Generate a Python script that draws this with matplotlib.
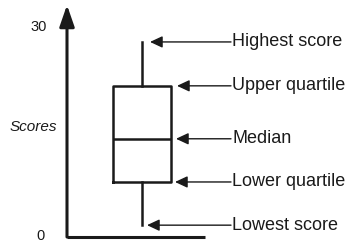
import matplotlib
matplotlib.use("Agg")
import matplotlib.pyplot as plt

plt.rcParams['font.family'] = ['Liberation Sans', 'DejaVu Sans']

# Five-number summary (scores)
lowest = 1.7
lower_q = 7.9
median = 14.1
upper_q = 21.7
highest = 28.0
labels = ["Highest score", "Upper quartile", "Median", "Lower quartile", "Lowest score"]
values = [highest, upper_q, median, lower_q, lowest]
yticks = [0, 30]

fig = plt.figure(figsize=(3.46, 2.43), dpi=100)
ax = fig.add_axes([0, 0, 1, 1])
ax.set_xlim(0, 346)
ax.set_ylim(-0.86, 34.02)
ax.axis('off')

box_x = 142
box_w = 58
stats = [dict(med=median, q1=lower_q, q3=upper_q, whislo=lowest, whishi=highest, fliers=[])]
ax.bxp(stats, positions=[box_x], widths=box_w, showcaps=False, showfliers=False,
       boxprops=dict(color='#1a1a1a', linewidth=1.8),
       medianprops=dict(color='#1a1a1a', linewidth=1.8),
       whiskerprops=dict(color='#1a1a1a', linewidth=1.8),
       manage_ticks=False)

# axes
ax.plot([67, 205], [0, 0], color='#1a1a1a', linewidth=2.2, solid_capstyle='butt')
ax.annotate('', xy=(67, 33.3), xytext=(67, 0),
            arrowprops=dict(arrowstyle='-|>,head_length=1.3,head_width=0.45',
                            color='#1a1a1a', linewidth=2.2, shrinkA=0, shrinkB=0))
ax.text(47, yticks[1] + 0.2, str(yticks[1]), ha='right', va='center', fontsize=10.5, color='#1a1a1a')
ax.text(45, yticks[0] + 0.2, str(yticks[0]), ha='right', va='center', fontsize=10.5, color='#1a1a1a')
ax.text(33, 15.8, 'Scores', ha='center', va='center', fontsize=11, style='italic', color='#1a1a1a')

tips = [150, 177, 176, 175, 147]
for lab, v, tip in zip(labels, values, tips):
    ax.annotate('', xy=(tip, v), xytext=(231, v),
                arrowprops=dict(arrowstyle='-|>,head_length=0.75,head_width=0.35',
                                color='#1a1a1a', linewidth=1.0, shrinkA=0, shrinkB=0))
    ax.text(232, v, lab, ha='left', va='center', fontsize=13, color='#1a1a1a')

fig.savefig('out.png', dpi=100)
